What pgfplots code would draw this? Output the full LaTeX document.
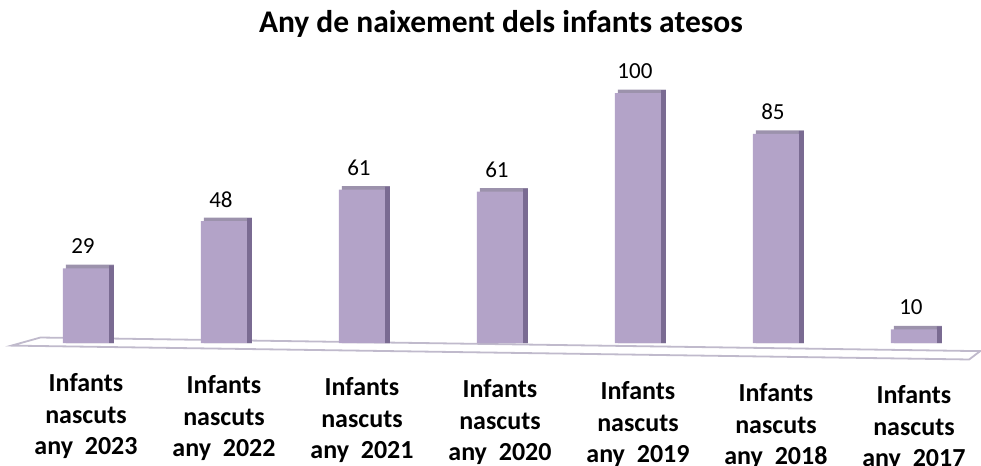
\documentclass[border=0pt]{standalone}
\usepackage{pgfplots}
\pgfplotsset{compat=1.18}
\usepackage{pgfplotstable}
\usepackage{fontspec}
\setmainfont{Carlito}
\definecolor{barfront}{RGB}{179,163,200}
\definecolor{barside}{RGB}{122,107,146}
\definecolor{bartop}{RGB}{156,146,172}
\definecolor{floorline}{RGB}{192,186,204}
\pgfplotstableread{
x v
0 29
1 48
2 61
3 61
4 100
5 85
6 10
}\datatab
\begin{document}
\begin{tikzpicture}
\begin{axis}[
  x={(138pt,-2pt)}, y={(0pt,2.58pt)},
  xmin=-0.623, xmax=6.486, ymin=-42.3, ymax=132.5,
  hide axis, clip=false, ybar,
  /pgf/number format/assume math mode=true,
]
\coordinate (TL) at (axis cs:-0.623,132.5);
\coordinate (BR) at (axis cs:6.486,-42.26);
\draw[floorline, line width=1.8pt, fill=white] (axis cs:-0.54,-1.4) -- (axis cs:-0.33,1.9) -- (axis cs:6.48,1.9) -- (axis cs:6.40,-1.4) -- cycle;
\addplot[fill=bartop, draw=none, bar width=0.348, bar shift=0.029] table[x=x, y expr=\thisrow{v}+1.36] {\datatab};
\addplot[fill=barside, draw=none, bar width=0.036, bar shift=0.185] table[x=x, y expr=\thisrow{v}+1.16] {\datatab};
\addplot[fill=barfront, draw=none, bar width=0.333, bar shift=0,
  nodes near coords, every node near coord/.append style={font=\fontsize{23}{27}\selectfont, anchor=center, yshift=22pt, xshift=-3pt, text=black}] table[x=x,y=v] {\datatab};
\node[font=\fontsize{31.5}{37}\selectfont\bfseries, anchor=base] at (axis cs:3.007,122.9) {Any de naixement dels infants atesos};
\foreach \i/\yr in {0/2023,1/2022,2/2021,3/2020,4/2019,5/2018,6/2017}{
  \edef\tmp{\noexpand\node[font=\noexpand\fontsize{26}{31.5}\noexpand\selectfont\noexpand\bfseries, align=center, anchor=north, inner sep=0pt] at (axis cs:\i,-11.7) {Infants\noexpand\\nascuts\noexpand\\any\noexpand\ \noexpand\ \yr};}
  \tmp
}
\end{axis}
\pgfresetboundingbox
\path[use as bounding box] (TL) rectangle (BR);
\end{tikzpicture}
\end{document}
